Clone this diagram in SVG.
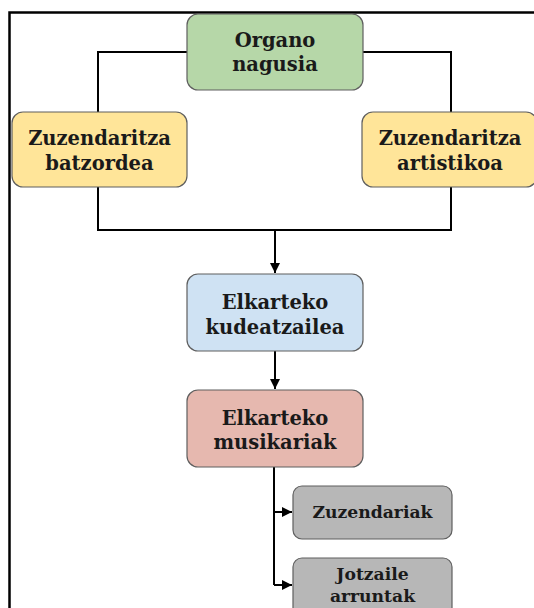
<svg xmlns="http://www.w3.org/2000/svg" width="534" height="608" viewBox="0 0 534 608">
<style>
.box{stroke:#5f5f5f;stroke-width:1.2}
.t{font-family:"DejaVu Serif","Liberation Serif",serif;font-weight:bold;font-size:19.5px;fill:#1a1a1a;text-anchor:middle}
.ts{font-size:17.2px}
.c{fill:none;stroke:#000;stroke-width:2}
</style>
<defs>
<marker id="ah" viewBox="0 0 10 10" refX="10" refY="5" markerWidth="5.5" markerHeight="5" orient="auto" markerUnits="strokeWidth">
<path d="M0,0 L10,5 L0,10 z" fill="#000"/>
</marker>
</defs>
<rect x="0" y="0" width="534" height="608" fill="#fff"/>
<path d="M9.5,608 V12.5 H534" fill="none" stroke="#000" stroke-width="2.5"/>
<g id="connectors">
<path class="c" d="M187,52 H98 V112"/>
<path class="c" d="M363,52 H451 V112"/>
<path class="c" d="M98,187 V230 H451 V187"/>
<path class="c" d="M275,230 V273" stroke-width="2.6" marker-end="url(#ah)"/>
<path class="c" d="M275,351 V389" marker-end="url(#ah)"/>
<path class="c" d="M274,467 V585"/>
<path class="c" d="M274,512 H292" marker-end="url(#ah)"/>
<path class="c" d="M274,585 H292" marker-end="url(#ah)"/>
</g>
<g id="organo">
<rect class="box" x="187" y="14" width="176" height="76" rx="11" fill="#b6d7a8"/>
<text class="t" x="275" y="47">Organo</text>
<text class="t" x="275" y="71">nagusia</text>
</g>
<g id="batzordea">
<rect class="box" x="12" y="112" width="175" height="75" rx="11" fill="#ffe599"/>
<text class="t" x="99.5" y="145">Zuzendaritza</text>
<text class="t" x="99.5" y="170">batzordea</text>
</g>
<g id="artistikoa">
<rect class="box" x="362" y="112" width="175" height="75" rx="11" fill="#ffe599"/>
<text class="t" x="450" y="145">Zuzendaritza</text>
<text class="t" x="450" y="170">artistikoa</text>
</g>
<g id="kudeatzailea">
<rect class="box" x="187" y="274" width="176" height="77" rx="11" fill="#cfe2f3"/>
<text class="t" x="275" y="309">Elkarteko</text>
<text class="t" x="275" y="334">kudeatzailea</text>
</g>
<g id="musikariak">
<rect class="box" x="187" y="390" width="176" height="77" rx="11" fill="#e6b8af"/>
<text class="t" x="275" y="425">Elkarteko</text>
<text class="t" x="275" y="449">musikariak</text>
</g>
<g id="zuzendariak">
<rect class="box" x="293" y="486" width="159" height="53" rx="9" fill="#b7b7b7"/>
<text class="t ts" x="372.5" y="518">Zuzendariak</text>
</g>
<g id="jotzaile">
<rect class="box" x="293" y="558" width="159" height="62" rx="9" fill="#b7b7b7"/>
<text class="t ts" x="372.5" y="580">Jotzaile</text>
<text class="t ts" x="372.5" y="602">arruntak</text>
</g>
</svg>
